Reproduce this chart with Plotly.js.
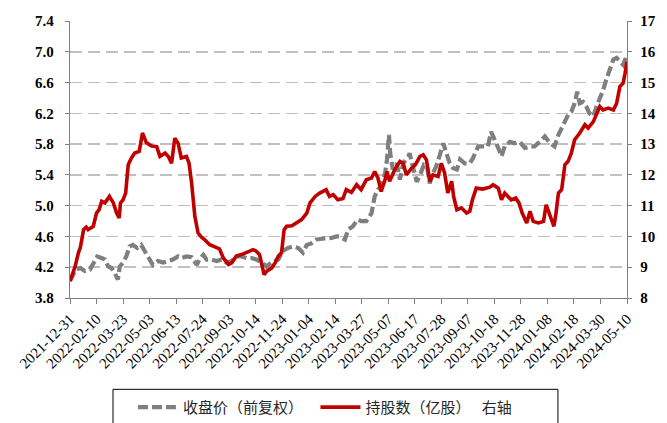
<!DOCTYPE html>
<html>
<head>
<meta charset="utf-8">
<script src="https://cdn.plot.ly/plotly-3.0.1.min.js"></script>
<style>
  html, body { margin: 0; padding: 0; background: #fff; }
  #chart { width: 667px; height: 423px; }
</style>
</head>
<body>
<div id="chart"></div>
<script>
// ---- Data ----
const priceName = "收盘价（前复权）\u3000";
const shareName = "持股数（亿股）\u3000 右轴";

const priceDates = [
  "2021-12-31","2022-01-04","2022-01-09","2022-01-16","2022-01-23","2022-01-31","2022-02-05","2022-02-11",
  "2022-02-18","2022-02-23","2022-02-28","2022-03-05","2022-03-10","2022-03-15","2022-03-18","2022-03-23",
  "2022-03-28","2022-04-02","2022-04-07","2022-04-14","2022-04-20","2022-04-27","2022-05-03","2022-05-08",
  "2022-05-16","2022-05-24","2022-06-01","2022-06-08","2022-06-16","2022-06-21","2022-06-29","2022-07-07",
  "2022-07-15","2022-07-19","2022-07-25","2022-07-30","2022-08-07","2022-08-15","2022-08-22","2022-08-30",
  "2022-09-07","2022-09-14","2022-09-22","2022-09-30","2022-10-08","2022-10-15","2022-10-23","2022-10-31",
  "2022-11-07","2022-11-18","2022-11-25","2022-12-03","2022-12-11","2022-12-19","2022-12-26","2023-01-01",
  "2023-01-08","2023-01-16","2023-01-24","2023-01-31","2023-02-08","2023-02-16","2023-02-20","2023-03-01",
  "2023-03-06","2023-03-13","2023-03-21","2023-03-26","2023-04-03","2023-04-11","2023-04-16","2023-04-21",
  "2023-04-26","2023-05-02","2023-05-05","2023-05-08","2023-05-10","2023-05-14","2023-05-20","2023-05-25",
  "2023-05-30","2023-06-07","2023-06-09","2023-06-14","2023-06-20","2023-06-26","2023-07-01","2023-07-06",
  "2023-07-10","2023-07-15","2023-07-20","2023-07-25","2023-07-31","2023-08-05","2023-08-10","2023-08-15",
  "2023-08-21","2023-08-26","2023-09-02","2023-09-10","2023-09-15","2023-09-23","2023-09-30","2023-10-08",
  "2023-10-13","2023-10-19","2023-10-24","2023-10-29","2023-11-03","2023-11-11","2023-11-18","2023-11-26",
  "2023-12-04","2023-12-12","2023-12-19","2023-12-27","2024-01-04","2024-01-12","2024-01-19","2024-01-25",
  "2024-01-30","2024-02-04","2024-02-09","2024-02-14","2024-02-19","2024-02-23","2024-02-27","2024-03-03",
  "2024-03-08","2024-03-13","2024-03-19","2024-03-24","2024-03-29","2024-04-03","2024-04-08","2024-04-13",
  "2024-04-19","2024-04-24","2024-04-29","2024-05-04","2024-05-09"
];
const priceValues = [
  4.02,4.08,4.17,4.19,4.15,4.17,4.26,4.34,
  4.32,4.30,4.21,4.19,4.13,4.04,4.21,4.26,
  4.34,4.47,4.49,4.45,4.49,4.39,4.30,4.23,
  4.28,4.26,4.28,4.30,4.34,4.32,4.34,4.33,
  4.23,4.30,4.36,4.30,4.30,4.28,4.30,4.26,
  4.28,4.34,4.34,4.32,4.32,4.30,4.26,4.21,
  4.26,4.30,4.41,4.45,4.47,4.45,4.39,4.49,
  4.51,4.56,4.57,4.57,4.58,4.60,4.60,4.56,
  4.69,4.73,4.82,4.80,4.80,4.90,5.12,5.21,
  5.25,5.42,5.60,5.92,5.68,5.47,5.55,5.34,
  5.55,5.64,5.68,5.51,5.31,5.42,5.53,5.51,
  5.29,5.42,5.51,5.64,5.81,5.68,5.55,5.49,
  5.47,5.60,5.55,5.55,5.62,5.77,5.77,5.77,
  5.96,5.86,5.75,5.64,5.77,5.83,5.81,5.83,
  5.75,5.77,5.77,5.83,5.90,5.81,5.77,5.92,
  6.01,6.07,6.18,6.22,6.33,6.48,6.33,6.35,
  6.29,6.20,6.16,6.29,6.38,6.50,6.64,6.77,
  6.90,6.92,6.88,6.83,6.94
];

const shareDates = [
  "2021-12-31","2022-01-08","2022-01-13","2022-01-16","2022-01-21","2022-01-25","2022-01-28","2022-02-05",
  "2022-02-10","2022-02-14","2022-02-18","2022-02-23","2022-03-02","2022-03-08","2022-03-13","2022-03-17",
  "2022-03-19","2022-03-23","2022-03-27","2022-03-31","2022-04-05","2022-04-10","2022-04-17","2022-04-22",
  "2022-04-28","2022-05-06","2022-05-14","2022-05-19","2022-05-27","2022-06-01","2022-06-06","2022-06-11",
  "2022-06-16","2022-06-21","2022-06-29","2022-07-03","2022-07-07","2022-07-12","2022-07-17","2022-07-22",
  "2022-07-27","2022-08-04","2022-08-12","2022-08-19","2022-08-25","2022-09-02","2022-09-07","2022-09-14",
  "2022-09-22","2022-09-30","2022-10-10","2022-10-15","2022-10-20","2022-10-27","2022-10-31","2022-11-08",
  "2022-11-13","2022-11-18","2022-11-23","2022-11-27","2022-12-01","2022-12-09","2022-12-16","2022-12-24",
  "2023-01-01","2023-01-06","2023-01-14","2023-01-21","2023-01-31","2023-02-05","2023-02-11","2023-02-18",
  "2023-02-26","2023-03-03","2023-03-11","2023-03-19","2023-03-26","2023-04-03","2023-04-11","2023-04-16",
  "2023-04-21","2023-04-26","2023-05-02","2023-05-05","2023-05-09","2023-05-17","2023-05-25","2023-05-30",
  "2023-06-04","2023-06-12","2023-06-18","2023-06-25","2023-06-30","2023-07-05","2023-07-10","2023-07-15",
  "2023-07-23","2023-07-28","2023-08-02","2023-08-07","2023-08-13","2023-08-16","2023-08-21","2023-08-28",
  "2023-09-05","2023-09-10","2023-09-14","2023-09-20","2023-09-30","2023-10-11","2023-10-16","2023-10-24",
  "2023-10-29","2023-11-03","2023-11-08","2023-11-13","2023-11-20","2023-11-25","2023-11-30","2023-12-07",
  "2023-12-12","2023-12-17","2023-12-25","2024-01-02","2024-01-06","2024-01-11","2024-01-18","2024-01-21",
  "2024-01-25","2024-01-30","2024-02-04","2024-02-09","2024-02-14","2024-02-19","2024-02-27","2024-03-06",
  "2024-03-11","2024-03-19","2024-03-24","2024-03-29","2024-04-03","2024-04-11","2024-04-19","2024-04-24",
  "2024-04-29","2024-05-04","2024-05-07","2024-05-10"
];
const shareValues = [
  8.55,9.03,9.47,9.64,10.22,10.30,10.22,10.33,
  10.76,10.87,11.14,11.09,11.30,11.09,10.76,10.60,
  11.09,11.19,11.41,12.33,12.55,12.71,12.76,13.36,
  13.05,12.94,12.92,12.60,12.71,12.60,12.38,13.19,
  13.03,12.55,12.60,12.38,11.74,10.65,10.11,9.98,
  9.90,9.73,9.66,9.60,9.30,9.09,9.14,9.36,
  9.41,9.47,9.57,9.52,9.41,8.76,8.87,8.98,
  9.14,9.36,9.47,10.22,10.33,10.35,10.44,10.55,
  10.76,11.09,11.30,11.41,11.52,11.30,11.36,11.19,
  11.23,11.52,11.43,11.68,11.52,11.84,11.90,12.11,
  11.90,11.46,11.84,12.11,11.79,12.17,12.44,12.38,
  12.00,12.22,12.33,12.60,12.65,12.49,11.79,12.00,
  11.95,12.38,12.06,11.41,11.79,11.30,10.87,10.93,
  10.76,10.82,11.19,11.57,11.54,11.60,11.68,11.57,
  11.19,11.41,11.30,11.19,11.25,11.09,10.76,10.44,
  10.82,10.49,10.44,10.49,11.03,10.76,10.33,10.71,
  11.41,11.52,12.33,12.44,12.71,13.14,13.36,13.63,
  13.52,13.73,13.95,14.22,14.11,14.17,14.11,14.33,
  14.87,14.98,15.30,15.68
];

const tickDates = [
  "2021-12-31","2022-02-10","2022-03-23","2022-05-03","2022-06-13","2022-07-24","2022-09-03","2022-10-14",
  "2022-11-24","2023-01-04","2023-02-14","2023-03-27","2023-05-07","2023-06-17","2023-07-28","2023-09-07",
  "2023-10-18","2023-11-28","2024-01-08","2024-02-18","2024-03-30","2024-05-10"
];
const leftTicks = [3.8, 4.2, 4.6, 5.0, 5.4, 5.8, 6.2, 6.6, 7.0, 7.4];
const rightTicks = [8, 9, 10, 11, 12, 13, 14, 15, 16, 17];

// ---- Chart ----
const serif = "'Liberation Serif', 'Times New Roman', 'Noto Sans CJK SC', serif";
const legendFont = "'Liberation Serif', 'Noto Sans CJK SC', serif";

const traces = [
  {
    x: priceDates, y: priceValues, name: priceName, type: "scatter", mode: "lines",
    line: { color: "#7f7f7f", width: 4.2, dash: "10px,4px" }, yaxis: "y"
  },
  {
    x: shareDates, y: shareValues, name: shareName, type: "scatter", mode: "lines",
    line: { color: "#c00000", width: 3.6 }, yaxis: "y2"
  }
];

const layout = {
  width: 667, height: 423,
  margin: { l: 70, r: 40, t: 21, b: 124.5 },
  paper_bgcolor: "#ffffff", plot_bgcolor: "#ffffff",
  showlegend: true,
  xaxis: {
    type: "date",
    range: [tickDates[0], tickDates[tickDates.length - 1]],
    tickvals: tickDates,
    ticktext: tickDates,
    tickangle: -45,
    ticks: "outside", ticklen: 5, tickcolor: "#808080", tickwidth: 1,
    showline: true, linecolor: "#808080", linewidth: 1.3,
    showgrid: false, zeroline: false,
    tickfont: { family: serif, size: 15, color: "#000" },
    automargin: false
  },
  yaxis: {
    range: [3.8, 7.4], tickvals: leftTicks, ticktext: leftTicks.map(v => v.toFixed(1)),
    ticks: "outside", ticklen: 4, tickcolor: "#808080",
    ticklabelstandoff: 8,
    showline: true, linecolor: "#808080", linewidth: 1.3,
    showgrid: true, gridcolor: "#c0c0c0", gridwidth: 1.6, griddash: "12px,6px",
    zeroline: false,
    tickfont: { family: serif, size: 15, color: "#000", weight: "bold" },
    automargin: false
  },
  yaxis2: {
    range: [8, 17], tickvals: rightTicks, ticktext: rightTicks.map(String),
    overlaying: "y", side: "right",
    ticks: "outside", ticklen: 4, tickcolor: "#808080",
    ticklabelstandoff: 5,
    showline: true, linecolor: "#808080", linewidth: 1.3,
    showgrid: false, zeroline: false,
    tickfont: { family: serif, size: 15, color: "#000", weight: "bold" },
    automargin: false
  },
  shapes: [
    {
      type: "rect", xref: "paper", yref: "paper",
      x0: 0.0772, x1: 0.876, y0: -0.3297, y1: -0.48,
      line: { color: "#000", width: 1 }, fillcolor: "rgba(0,0,0,0)", layer: "above"
    }
  ],
  legend: {
    orientation: "h",
    x: 0.113, xanchor: "left",
    yref: "container",
    y: 0.076, yanchor: "top",
    borderwidth: 0,
    bgcolor: "rgba(0,0,0,0)",
    font: { family: legendFont, size: 15, color: "#262626" },
    itemwidth: 40
  }
};

Plotly.newPlot("chart", traces, layout, { displayModeBar: false, staticPlot: true });
</script>
</body>
</html>
